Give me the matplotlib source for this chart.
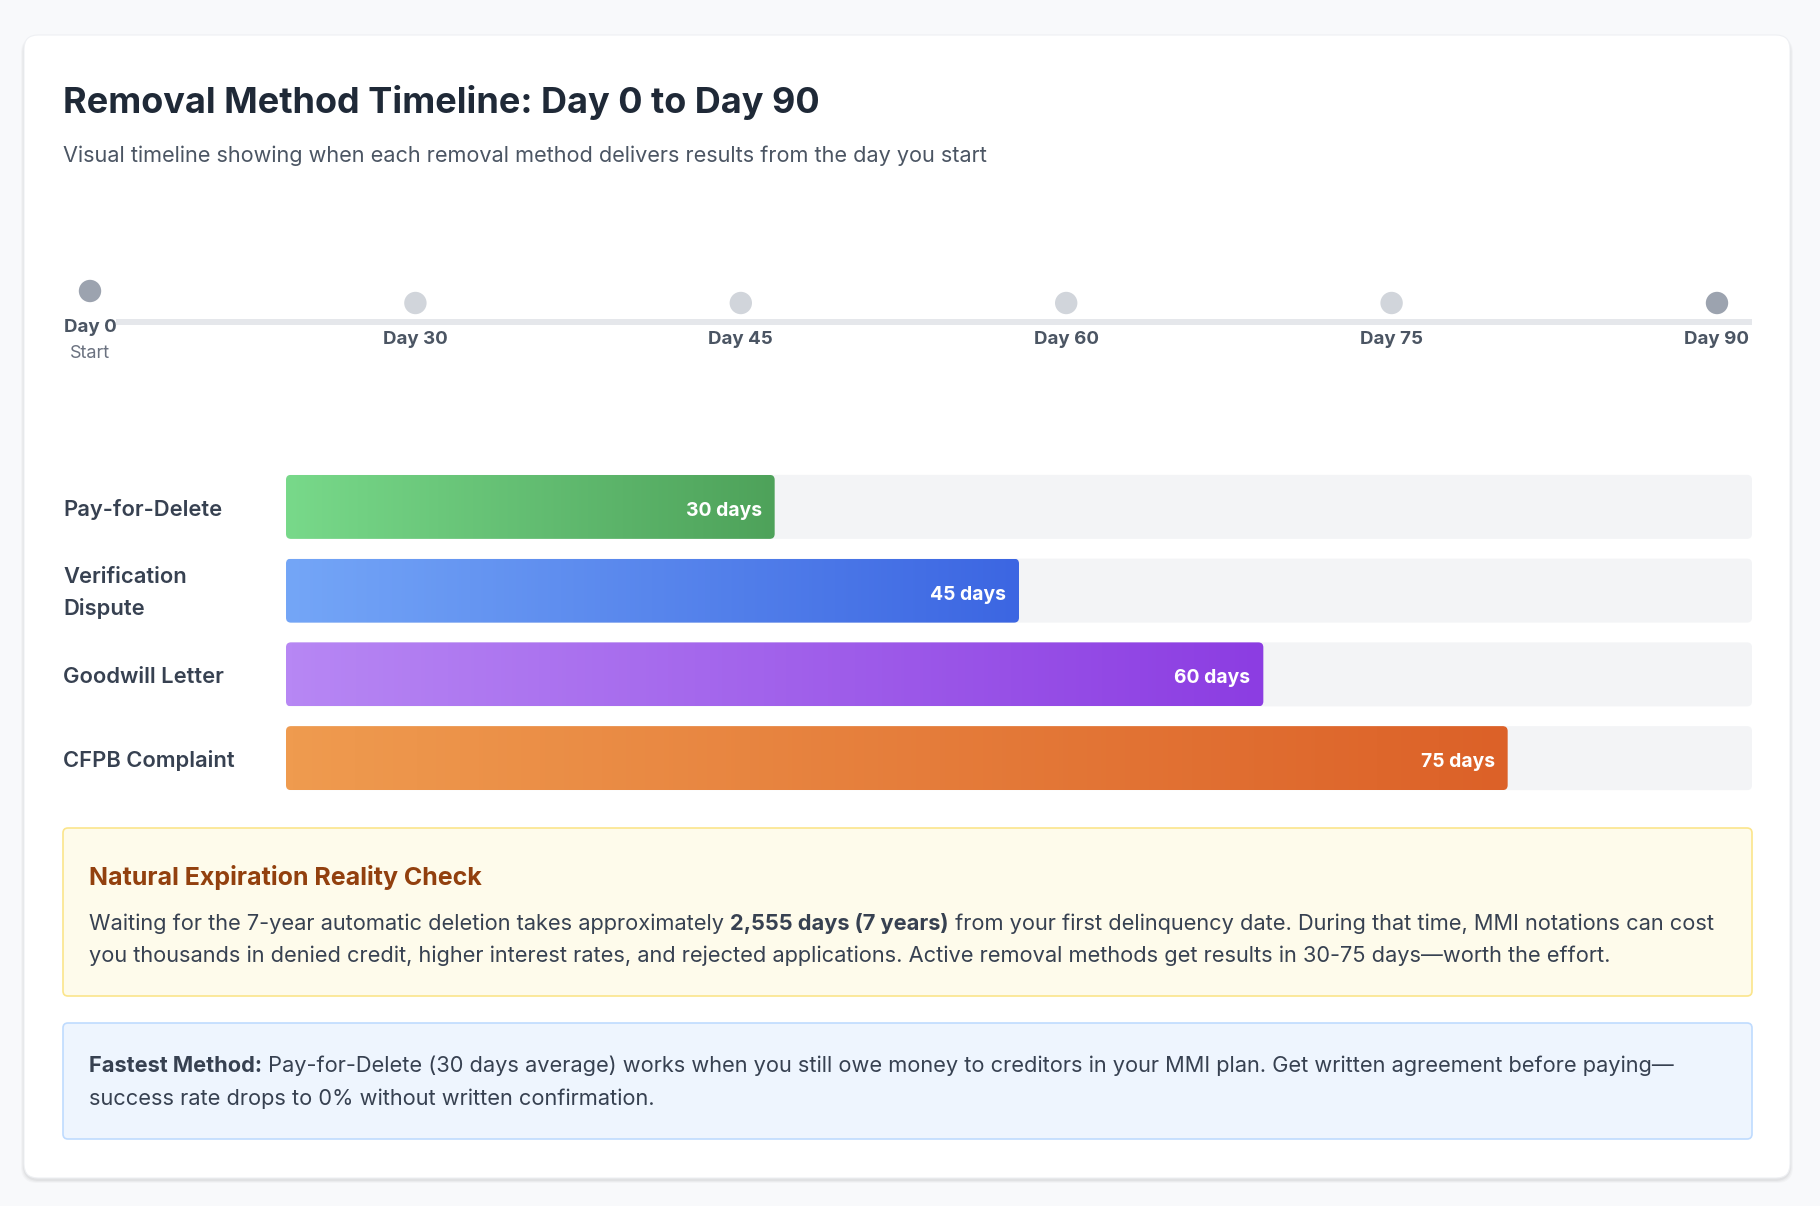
import numpy as np
import matplotlib.pyplot as plt
from matplotlib.patches import FancyBboxPatch
from matplotlib.colors import LinearSegmentedColormap

plt.rcParams['font.family'] = ['Inter', 'DejaVu Sans']

# data
methods = ["Pay-for-Delete", "Verification\nDispute", "Goodwill Letter", "CFPB Complaint"]
days = [30, 45, 60, 75]
max_day = 90
grad_start = ["#78d98a", "#74a6f7", "#b787f4", "#ef9b4f"]
grad_end = ["#4ea25a", "#3c66e2", "#8c3de2", "#dc6128"]
mark_days = [0, 30, 45, 60, 75, 90]
mark_labels = ["Day 0", "Day 30", "Day 45", "Day 60", "Day 75", "Day 90"]

title = "Removal Method Timeline: Day 0 to Day 90"
subtitle = "Visual timeline showing when each removal method delivers results from the day you start"

W, H = 1820, 1206
fig = plt.figure(figsize=(W / 100, H / 100), dpi=100)
fig.patch.set_facecolor("#f8f9fb")
ax = fig.add_axes([0, 0, 1, 1])
ax.set_xlim(0, W)
ax.set_ylim(H, 0)
ax.axis("off")

# card with soft shadow
for k, a in enumerate([0.025, 0.03, 0.04]):
    off = 3 - k
    ax.add_patch(FancyBboxPatch((24 - off, 35 + 2), 1766 + 2 * off, 1143 + off,
                                boxstyle="round,pad=0,rounding_size=16",
                                fc="#000000", ec="none", alpha=a, zorder=0))
ax.add_patch(FancyBboxPatch((24, 35), 1766, 1143, boxstyle="round,pad=0,rounding_size=14",
                            fc="white", ec="#eef0f3", lw=0.8, zorder=1))

ax.text(63, 103, title, fontsize=26, fontweight="bold", color="#1f2937", va="center", zorder=3)
ax.text(63, 156, subtitle, fontsize=15.6, color="#4b5563", va="center", zorder=3)

# timeline
ax.plot([116, 1752], [322, 322], color="#e5e7eb", lw=4.3, solid_capstyle="butt", zorder=2)
mark_x = np.linspace(90, 1717, len(mark_days))
for i, (d, lab) in enumerate(zip(mark_days, mark_labels)):
    x = mark_x[i]
    first = i == 0
    last = i == len(mark_days) - 1
    col = "#9ca3af" if (first or last) else "#d1d5db"
    y = 291 if first else 303
    ax.scatter([x], [y], s=260, color=col, edgecolors="none", zorder=4)
    if first:
        ax.text(x, 328, lab, fontsize=13.5, fontweight="bold", color="#4b5563",
                ha="center", va="center", zorder=5)
        ax.text(x, 354, "Start", fontsize=13, color="#6b7280", ha="center", va="center", zorder=5)
    else:
        ax.text(x, 340, lab, fontsize=13.5, fontweight="bold", color="#4b5563",
                ha="center", va="center", zorder=5)

# bars
bx0, bx1 = 286, 1752
row_top, row_bot = 465, 800
bax = fig.add_axes([bx0 / W, 1 - row_bot / H, (bx1 - bx0) / W, (row_bot - row_top) / H])
bax.set_xlim(0, max_day)
bax.set_ylim(len(methods) - 0.5, -0.5)
bax.axis("off")
bax.patch.set_alpha(0)
px_x = (bx1 - bx0) / max_day
px_y = (row_bot - row_top) / len(methods)
aspect = px_x / px_y
h = 64 / px_y
r = 5 / px_x

for i, (m, d) in enumerate(zip(methods, days)):
    track = FancyBboxPatch((0, i - h / 2), max_day, h,
                           boxstyle=f"round,pad=0,rounding_size={r}", mutation_aspect=aspect,
                           fc="#f3f4f6", ec="none", zorder=1)
    bax.add_patch(track)
    bar = FancyBboxPatch((0, i - h / 2), d, h,
                         boxstyle=f"round,pad=0,rounding_size={r}", mutation_aspect=aspect,
                         fc="none", ec="none", zorder=2)
    bax.add_patch(bar)
    cmap = LinearSegmentedColormap.from_list(f"g{i}", [grad_start[i], grad_end[i]])
    grad = np.linspace(0, 1, 256).reshape(1, -1)
    im = bax.imshow(grad, cmap=cmap, aspect="auto", extent=(0, d, i + h / 2, i - h / 2),
                    zorder=2, interpolation="bilinear")
    im.set_clip_path(bar)
    bax.annotate(f"{d} days", xy=(d, i), xytext=(-13, -4), textcoords="offset pixels",
                 ha="right", va="center", fontsize=13.9, fontweight="bold", color="white", zorder=3)
    ax.text(63, row_top + px_y * (i + 0.5) + 2.5, m, fontsize=15.8, fontweight="semibold",
            color="#374151", va="center", linespacing=1.68, zorder=3)

bax.set_xlim(0, max_day)
bax.set_ylim(len(methods) - 0.5, -0.5)

# callout boxes
ax.add_patch(FancyBboxPatch((63, 828), 1689, 168, boxstyle="round,pad=0,rounding_size=5",
                            fc="#fefbeb", ec="#fbe58b", lw=1.2, zorder=2))
ax.add_patch(FancyBboxPatch((63, 1023), 1689, 116, boxstyle="round,pad=0,rounding_size=5",
                            fc="#eef5fe", ec="#bfdbfe", lw=1.2, zorder=2))

ax.text(89, 877, "Natural Expiration Reality Check", fontsize=18, fontweight="bold",
        color="#92400e", va="center", zorder=3)

renderer = fig.canvas.get_renderer()


def rich_line(x, y, parts, size=15.7, color="#374151"):
    for txt, bold in parts:
        t = ax.text(x, y, txt, fontsize=size, color=color, va="center",
                    fontweight="bold" if bold else "normal", zorder=3)
        bb = t.get_window_extent(renderer)
        x += bb.width


rich_line(89, 924, [("Waiting for the 7-year automatic deletion takes approximately ", False),
                    ("2,555 days (7 years)", True),
                    (" from your first delinquency date. During that time, MMI notations can cost", False)])
rich_line(89, 956, [("you thousands in denied credit, higher interest rates, and rejected applications. "
                     "Active removal methods get results in 30-75 days\u2014worth the effort.", False)])
rich_line(89, 1066, [("Fastest Method:", True),
                     (" Pay-for-Delete (30 days average) works when you still owe money to creditors "
                      "in your MMI plan. Get written agreement before paying\u2014", False)])
rich_line(89, 1099, [("success rate drops to 0% without written confirmation.", False)])

fig.savefig("out.png", dpi=100, facecolor=fig.get_facecolor())
